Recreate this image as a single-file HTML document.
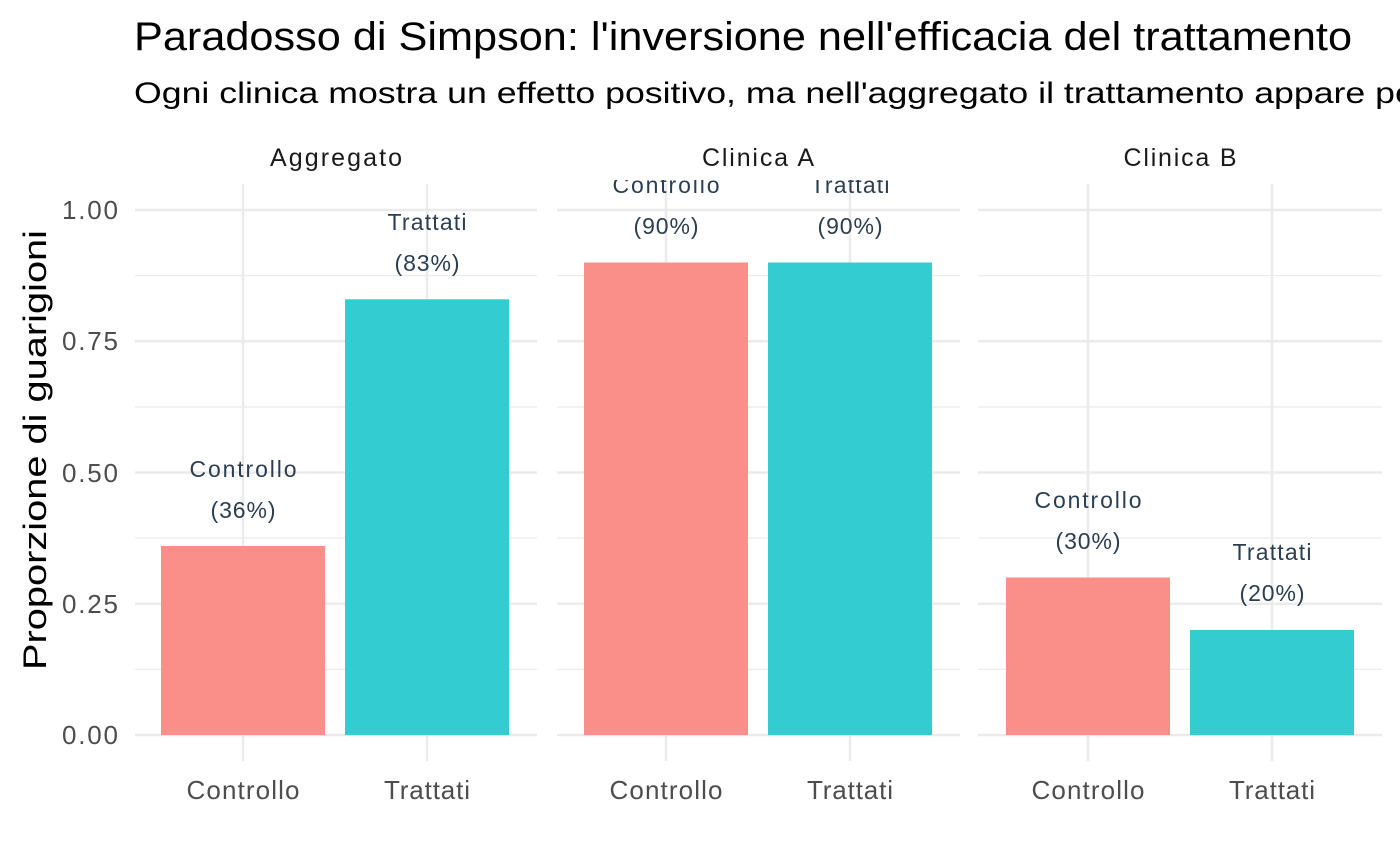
<!DOCTYPE html>
<html><head><meta charset="utf-8"><style>
html,body{margin:0;padding:0;background:#fff;}
svg{display:block;font-family:"Liberation Sans",sans-serif;}
</style></head><body>
<svg width="1400" height="865" viewBox="0 0 1400 865">
<defs><clipPath id="c"><rect x="0" y="180" width="1400" height="600"/></clipPath></defs>
<text x="134" y="50" font-size="40" fill="#000" textLength="1218" lengthAdjust="spacingAndGlyphs">Paradosso di Simpson: l'inversione nell'efficacia del trattamento</text>
<text x="134" y="103" font-size="30" fill="#000" textLength="1380" lengthAdjust="spacingAndGlyphs">Ogni clinica mostra un effetto positivo, ma nell'aggregato il trattamento appare peggiore</text>
<g font-size="25" fill="#1a1a1a" text-anchor="middle" lengthAdjust="spacingAndGlyphs">
<text x="336" y="166" textLength="132">Aggregato</text><text x="758" y="166" textLength="112">Clinica A</text><text x="1180" y="166" textLength="113">Clinica B</text>
</g>
<g stroke="#ebebeb" stroke-width="1.3">
<line x1="135" x2="537" y1="669.4" y2="669.4"/><line x1="135" x2="537" y1="538" y2="538"/><line x1="135" x2="537" y1="407" y2="407"/><line x1="135" x2="537" y1="275.6" y2="275.6"/>
<line x1="557" x2="960" y1="669.4" y2="669.4"/><line x1="557" x2="960" y1="538" y2="538"/><line x1="557" x2="960" y1="407" y2="407"/><line x1="557" x2="960" y1="275.6" y2="275.6"/>
<line x1="978" x2="1382" y1="669.4" y2="669.4"/><line x1="978" x2="1382" y1="538" y2="538"/><line x1="978" x2="1382" y1="407" y2="407"/><line x1="978" x2="1382" y1="275.6" y2="275.6"/>
</g>
<g stroke="#ebebeb" stroke-width="2.6">
<line x1="135" x2="537" y1="735" y2="735"/><line x1="135" x2="537" y1="603.75" y2="603.75"/><line x1="135" x2="537" y1="472.5" y2="472.5"/><line x1="135" x2="537" y1="341.25" y2="341.25"/><line x1="135" x2="537" y1="210" y2="210"/>
<line x1="557" x2="960" y1="735" y2="735"/><line x1="557" x2="960" y1="603.75" y2="603.75"/><line x1="557" x2="960" y1="472.5" y2="472.5"/><line x1="557" x2="960" y1="341.25" y2="341.25"/><line x1="557" x2="960" y1="210" y2="210"/>
<line x1="978" x2="1382" y1="735" y2="735"/><line x1="978" x2="1382" y1="603.75" y2="603.75"/><line x1="978" x2="1382" y1="472.5" y2="472.5"/><line x1="978" x2="1382" y1="341.25" y2="341.25"/><line x1="978" x2="1382" y1="210" y2="210"/>
<line x1="243" x2="243" y1="184" y2="761"/><line x1="427" x2="427" y1="184" y2="761"/>
<line x1="666" x2="666" y1="184" y2="761"/><line x1="850" x2="850" y1="184" y2="761"/>
<line x1="1088" x2="1088" y1="184" y2="761"/><line x1="1272" x2="1272" y1="184" y2="761"/>
</g>
<g>
<rect x="161" y="546" width="164" height="189" fill="#F98F88"/>
<rect x="345" y="299.3" width="164" height="435.7" fill="#33CCD0"/>
<rect x="584" y="262.5" width="164" height="472.5" fill="#F98F88"/>
<rect x="768" y="262.5" width="164" height="472.5" fill="#33CCD0"/>
<rect x="1006" y="577.5" width="164" height="157.5" fill="#F98F88"/>
<rect x="1190" y="630" width="164" height="105" fill="#33CCD0"/>
</g>
<g font-size="23" fill="#2c3e50" text-anchor="middle" clip-path="url(#c)" lengthAdjust="spacingAndGlyphs">
<text x="243" y="477" textLength="107">Controllo</text><text x="243" y="518" textLength="65">(36%)</text>
<text x="427" y="230" textLength="79">Trattati</text><text x="427" y="271" textLength="65">(83%)</text>
<text x="666" y="193" textLength="107">Controllo</text><text x="666" y="234" textLength="65">(90%)</text>
<text x="850" y="193" textLength="79">Trattati</text><text x="850" y="234" textLength="65">(90%)</text>
<text x="1088" y="508" textLength="107">Controllo</text><text x="1088" y="549" textLength="65">(30%)</text>
<text x="1272" y="560" textLength="79">Trattati</text><text x="1272" y="601" textLength="65">(20%)</text>
</g>
<g font-size="26" fill="#4d4d4d" text-anchor="end" lengthAdjust="spacingAndGlyphs">
<text x="118" y="744" textLength="56">0.00</text><text x="118" y="613" textLength="56">0.25</text><text x="118" y="482" textLength="56">0.50</text><text x="118" y="350" textLength="56">0.75</text><text x="118" y="219" textLength="56">1.00</text>
</g>
<g font-size="26" fill="#4d4d4d" text-anchor="middle" lengthAdjust="spacingAndGlyphs">
<text x="243" y="799" textLength="113">Controllo</text><text x="427" y="799" textLength="86">Trattati</text>
<text x="666" y="799" textLength="113">Controllo</text><text x="850" y="799" textLength="86">Trattati</text>
<text x="1088" y="799" textLength="113">Controllo</text><text x="1272" y="799" textLength="86">Trattati</text>
</g>
<text transform="translate(46,450) rotate(-90)" font-size="32" fill="#000" text-anchor="middle" textLength="440" lengthAdjust="spacingAndGlyphs">Proporzione di guarigioni</text>
</svg>
</body></html>
